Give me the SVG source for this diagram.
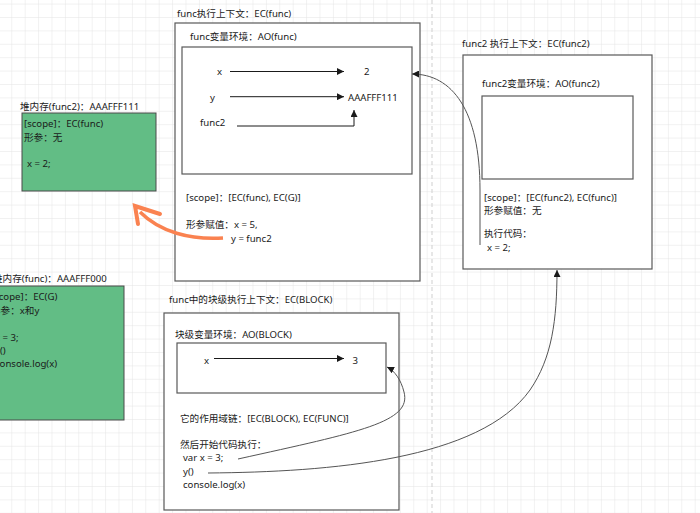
<svg xmlns="http://www.w3.org/2000/svg" width="700" height="513" viewBox="0 0 700 513">
<defs>
<pattern id="grid" x="11.3" y="3.6" width="13.4" height="13.4" patternUnits="userSpaceOnUse">
<path d="M0,0 H13.4 M0,0 V13.4" fill="none" stroke="#e4e4e4" stroke-width="1"/>
</pattern>
<marker id="blk" viewBox="0 0 10 10" refX="10" refY="5" markerWidth="7" markerHeight="7" markerUnits="userSpaceOnUse" orient="auto">
<path d="M0,0 L10,5 L0,10 Z" fill="#1a1a1a"/>
</marker>
<style>
text{font-family:"Noto Sans","Noto Sans CJK SC",sans-serif;font-size:9.6px;fill:#1a1a1a}
.box{fill:#ffffff;stroke:#595959;stroke-width:1.2}
.heap{fill:#62bd85;stroke:#4a4a4a;stroke-width:1}
.ln{fill:none;stroke:#1a1a1a;stroke-width:1}
.cv{fill:none;stroke:#555555;stroke-width:1}
</style>
</defs>
<rect width="700" height="513" fill="#ffffff"/>
<rect width="700" height="513" fill="url(#grid)"/>
<line x1="432" y1="0" x2="432" y2="513" stroke="#cfcfcf" stroke-width="1" stroke-dasharray="4,3"/>

<g id="heap-func2">
<text x="20" y="110">堆内存(func2)：AAAFFF111</text>
<rect class="heap" x="22" y="113" width="134" height="78"/>
<text x="24" y="127">[scope]：EC(func)</text>
<text x="24" y="141">形参：无</text>
<text x="27" y="167">x = 2;</text>
</g>

<g id="heap-func">
<text x="-7" y="282">堆内存(func)：AAAFFF000</text>
<rect class="heap" x="-40" y="286" width="164" height="134"/>
<text x="-9" y="299.5">[scope]：EC(G)</text>
<text x="-9" y="313.5">形参：x和y</text>
<text x="-5" y="340.5">x = 3;</text>
<text x="-5" y="354">y()</text>
<text x="-5" y="367">console.log(x)</text>
</g>

<g id="ec-func">
<text x="177" y="16.5">func执行上下文：EC(func)</text>
<rect class="box" x="175" y="23" width="245" height="258"/>
<text x="190" y="40">func变量环境：AO(func)</text>
<rect class="box" x="182" y="47" width="230" height="127"/>
<text x="217" y="75">x</text>
<text x="364" y="75">2</text>
<text x="210" y="101">y</text>
<text x="348" y="101">AAAFFF111</text>
<text x="200" y="126">func2</text>
<text x="186" y="200.5">[scope]：[EC(func), EC(G)]</text>
<text x="186" y="228">形参赋值：x = 5,</text>
<text x="231" y="242">y = func2</text>
</g>

<g id="ec-func2">
<text x="462" y="47">func2 执行上下文：EC(func2)</text>
<rect class="box" x="463" y="55" width="189" height="214"/>
<text x="482" y="86.5">func2变量环境：AO(func2)</text>
<rect class="box" x="482" y="96" width="151" height="83"/>
<text x="484" y="201">[scope]：[EC(func2), EC(func)]</text>
<text x="484" y="214">形参赋值：无</text>
<text x="484" y="237">执行代码：</text>
<text x="487" y="251">x = 2;</text>
</g>

<g id="ec-block">
<text x="169" y="303">func中的块级执行上下文：EC(BLOCK)</text>
<rect class="box" x="164" y="313" width="235" height="197"/>
<text x="175" y="338">块级变量环境：AO(BLOCK)</text>
<rect class="box" x="177" y="343" width="209" height="50"/>
<text x="204" y="364">x</text>
<text x="352.5" y="364">3</text>
<text x="180" y="421.5">它的作用域链：[EC(BLOCK), EC(FUNC)]</text>
<text x="180" y="448">然后开始代码执行：</text>
<text x="183" y="461">var x = 3;</text>
<text x="183" y="474.5">y()</text>
<text x="183" y="488">console.log(x)</text>
</g>

<g id="connectors">
<path class="ln" d="M230,71.5 H344" marker-end="url(#blk)"/>
<path class="ln" d="M230,96.7 H344" marker-end="url(#blk)"/>
<path class="ln" d="M237,126 H354 V110" marker-end="url(#blk)"/>
<path class="ln" d="M214,358.5 H344" marker-end="url(#blk)"/>
<path class="cv" d="M480,245 L480,190 C480,110 452,74 412,74" marker-end="url(#blk)"/>
<path class="cv" d="M238,459 C360,432 412,422 404,392 C401,380 395,371 387,367" marker-end="url(#blk)"/>
<path class="cv" d="M208,473 C330,472 480,460 530,390 C552,358 557,320 557,270" marker-end="url(#blk)"/>
<path d="M223,238 C190,240 160,232 140,212" fill="none" stroke="#fa8250" stroke-width="3.5"/>
<path d="M160,214 L135,206 L138,224" fill="none" stroke="#fa8250" stroke-width="4" stroke-linejoin="miter" stroke-linecap="round"/>
</g>
</svg>
